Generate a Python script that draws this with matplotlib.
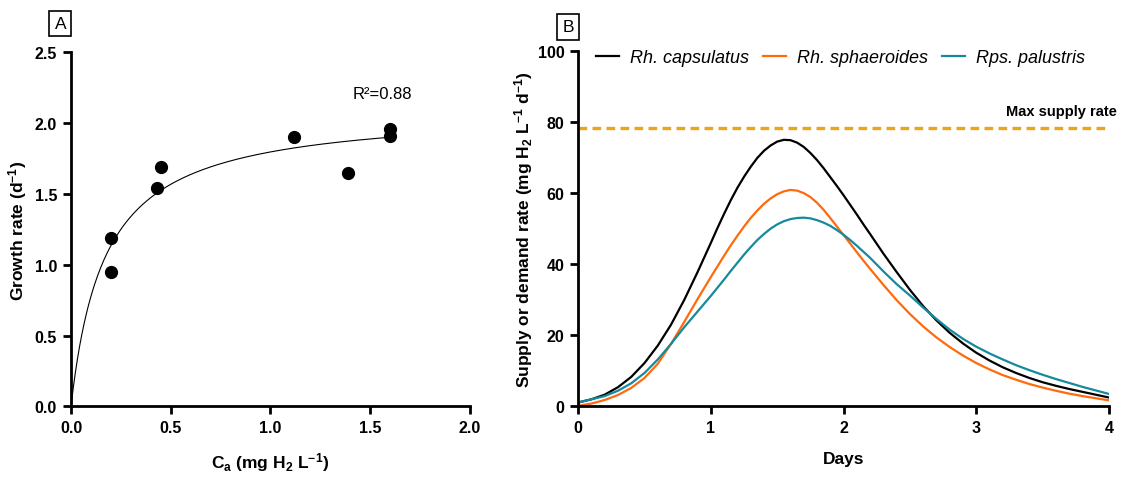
import numpy as np
import matplotlib.pyplot as plt

plt.rcParams['font.family'] = ['Liberation Sans', 'DejaVu Sans']
plt.rcParams['mathtext.default'] = 'regular'

# panel A: measured growth rates
conc = [0.20, 0.20, 0.43, 0.45, 1.12, 1.39, 1.60, 1.60]
growth = [1.19, 0.95, 1.54, 1.69, 1.90, 1.65, 1.96, 1.91]
r2_text = "R\u00b2=0.88"

# panel B: supply / demand rates (finer steps around the peaks)
days = [0.0, 0.1, 0.2, 0.3, 0.4, 0.5, 0.6, 0.7, 0.8, 0.9,
        1.0, 1.05, 1.1, 1.15, 1.2, 1.25, 1.3, 1.35, 1.4, 1.45,
        1.5, 1.55, 1.6, 1.65, 1.7, 1.75, 1.8, 1.85, 1.9, 1.95,
        2.0, 2.05, 2.1, 2.15, 2.2, 2.3, 2.4, 2.5, 2.6, 2.7, 2.8, 2.9,
        3.0, 3.1, 3.2, 3.3, 3.4, 3.5, 3.6, 3.7, 3.8, 3.9, 4.0]
capsulatus = [1.1, 2.0, 3.3, 5.4, 8.3, 12.2, 17.1, 23.0, 30.0, 37.8,
              46.0, 50.2, 54.2, 58.0, 61.5, 64.6, 67.4, 69.9, 71.9, 73.4,
              74.5, 75.0, 74.9, 74.2, 73.0, 71.3, 69.3, 67.0, 64.5, 62.0,
              59.4, 56.7, 54.0, 51.2, 48.5, 43.0, 37.8, 32.8, 28.2, 24.2, 20.7, 17.7,
              15.1, 12.9, 11.0, 9.4, 8.0, 6.8, 5.8, 4.9, 4.1, 3.3, 2.5]
sphaeroides = [0.2, 0.8, 1.8, 3.2, 5.2, 8.0, 12.0, 17.6, 23.8, 30.2,
               36.4, 39.4, 42.4, 45.3, 48.0, 50.6, 53.0, 55.1, 57.0, 58.5,
               59.7, 60.5, 60.9, 60.7, 60.0, 58.9, 57.3, 55.3, 53.0, 50.6,
               48.2, 45.8, 43.4, 41.0, 38.7, 34.2, 29.9, 26.0, 22.5, 19.4, 16.7, 14.3,
               12.2, 10.4, 8.8, 7.5, 6.3, 5.3, 4.4, 3.6, 2.9, 2.3, 1.7]
palustris = [1.1, 2.0, 2.9, 4.4, 6.5, 9.4, 13.2, 17.6, 22.3, 26.7,
             31.1, 33.4, 35.7, 38.1, 40.4, 42.7, 44.8, 46.8, 48.5, 50.0,
             51.2, 52.1, 52.7, 53.0, 53.1, 52.9, 52.4, 51.7, 50.8, 49.6,
             48.3, 46.8, 45.2, 43.5, 41.8, 38.0, 34.4, 31.2, 27.8, 24.6, 21.6, 19.0,
             16.8, 14.9, 13.2, 11.6, 10.2, 8.9, 7.7, 6.6, 5.5, 4.5, 3.5]
max_supply = 78.3

labels = ["Rh. capsulatus", "Rh. sphaeroides", "Rps. palustris"]
colors = ["#000000", "#FF6A0D", "#168A9C"]


def monod_fit(x, y):
    # least squares fit of mu = mumax * C / (K + C)
    x = np.asarray(x)
    y = np.asarray(y)
    best = None
    for k in np.linspace(0.005, 1.5, 3000):
        g = x / (k + x)
        m = np.dot(g, y) / np.dot(g, g)
        sse = np.sum((y - m * g) ** 2)
        if best is None or sse < best[0]:
            best = (sse, m, k)
    return best[1], best[2]


def style_axes(ax):
    for s in ['top', 'right']:
        ax.spines[s].set_visible(False)
    for s in ['left', 'bottom']:
        ax.spines[s].set_linewidth(2.0)
    ax.tick_params(width=2.0, length=6, labelsize=11.5, pad=4)
    for lab in ax.get_xticklabels() + ax.get_yticklabels():
        lab.set_fontweight('bold')


fig = plt.figure(figsize=(11.27, 4.81), dpi=100)
axA = fig.add_axes([0.063, 0.153, 0.354, 0.736])
axB = fig.add_axes([0.513, 0.153, 0.471, 0.739])

# ---- panel A
mumax, ks = monod_fit(conc, growth)
cc = np.linspace(0, max(conc), 300)
axA.plot(cc, mumax * cc / (ks + cc), color='black', lw=0.8)
axA.plot(conc, growth, 'o', color='black', markersize=8.5, clip_on=False)
axA.text(1.41, 2.213, r2_text, fontsize=12, va='center')
axA.set_xlim(0, 2.0)
axA.set_ylim(0, 2.5)
axA.set_xticks(np.arange(0, 2.01, 0.5))
axA.set_yticks(np.arange(0, 2.51, 0.5))
axA.set_xticklabels([f"{v:.1f}" for v in np.arange(0, 2.01, 0.5)])
axA.set_yticklabels([f"{v:.1f}" for v in np.arange(0, 2.51, 0.5)])
axA.set_xlabel("C$_a$ (mg H$_2$ L$^{-1}$)", fontsize=12.5, fontweight='bold', labelpad=11)
axA.set_ylabel("Growth rate (d$^{-1}$)", fontsize=12.5, fontweight='bold', labelpad=4)
style_axes(axA)
fig.text(0.0536, 0.949, "A", fontsize=12.5, ha='center', va='center',
         bbox=dict(boxstyle='square,pad=0.3', fc='white', ec='black', lw=1.2))

# ---- panel B
for vals, lab, col in zip([capsulatus, sphaeroides, palustris], labels, colors):
    axB.plot(days, vals, color=col, lw=1.6, label=lab)
axB.axhline(max_supply, color='#EBA41C', lw=2.4, ls=(0, (2.6, 1.6)))
axB.text(1.015, 83.2, "Max supply rate", fontsize=10.5, fontweight='bold',
         ha='right', va='center', transform=axB.get_yaxis_transform())
axB.set_xlim(0, 4)
axB.set_ylim(0, 100)
axB.set_xticks(range(0, 5))
axB.set_yticks(range(0, 101, 20))
axB.set_xlabel("Days", fontsize=12.5, fontweight='bold', labelpad=11)
axB.set_ylabel("Supply or demand rate (mg H$_2$ L$^{-1}$ d$^{-1}$)",
               fontsize=12.5, fontweight='bold', labelpad=2)
style_axes(axB)
leg = axB.legend(ncol=3, loc='upper left', bbox_to_anchor=(0.003, 1.05), frameon=False,
                 handlelength=1.3, handletextpad=0.6, columnspacing=0.75,
                 prop={'size': 13, 'style': 'italic'})
fig.text(0.504, 0.942, "B", fontsize=12.5, ha='center', va='center',
         bbox=dict(boxstyle='square,pad=0.3', fc='white', ec='black', lw=1.2))

fig.savefig("out.png", dpi=100)
